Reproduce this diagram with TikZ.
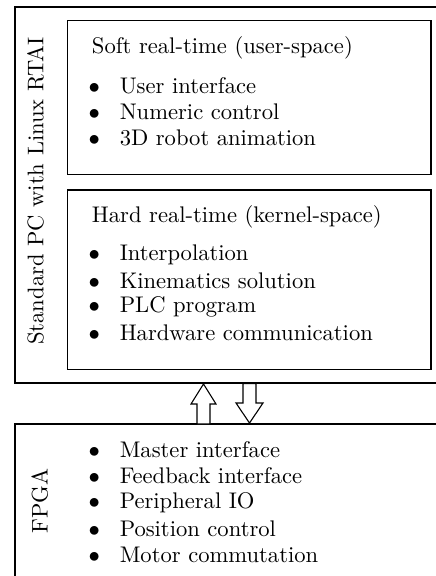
\documentclass[tikz,border=0pt]{standalone}
\begin{document}
\begin{tikzpicture}[x=1pt,y=-1pt,
  every node/.style={font=\fontsize{10}{12}\selectfont, inner sep=0pt, scale=2.26},
  box/.style={draw, line width=1.1pt, rectangle},
  itemtxt/.style={anchor=base west},
  bul/.style={anchor=base},
  arr/.style={draw, line width=1.1pt, fill=white, line join=miter}]
\useasboundingbox (0,0) rectangle (436,576);
\clip (0,0) rectangle (436,576);
% boxes
\draw[box] (15,7) rectangle (460,383);
\draw[box] (67.5,20.5) rectangle (431,174.5);
\draw[box] (67.5,190) rectangle (431,369.5);
\draw[box] (15,424) rectangle (460,600);
% rotated labels
\node[rotate=90, anchor=base] (pc) at (43.3,191) {Standard PC with Linux RTAI};
\node[rotate=90, anchor=base] (fpga) at (47.5,501) {FPGA};
% soft
\node[itemtxt] (st) at (91.5,53) {Soft real-time (user-space)};
\foreach \t/\y [count=\i] in {User interface/93, Numeric control/119, 3D robot animation/145}{
  \node[bul] (sb\i) at (94.3,\y) {$\bullet$};
  \node[itemtxt] (si\i) at (119.3,\y) {\t};
}
% hard
\node[itemtxt] (ht) at (91.5,222) {Hard real-time (kernel-space)};
\foreach \t/\y [count=\i] in {Interpolation/260, Kinematics solution/288, PLC program/312, Hardware communication/340}{
  \node[bul] (hb\i) at (94.3,\y) {$\bullet$};
  \node[itemtxt] (hi\i) at (119.3,\y) {\t};
}
% fpga
\foreach \t/\y [count=\i] in {Master interface/457, Feedback interface/483, Peripheral IO/508, Position control/536, Motor commutation/562}{
  \node[bul] (fb\i) at (94.3,\y) {$\bullet$};
  \node[itemtxt] (fi\i) at (119.3,\y) {\t};
}
% arrows
\draw[arr] (203.5,384) -- (216,404) -- (210,404) -- (210,424) -- (197,424) -- (197,404) -- (191,404) -- cycle;
\draw[arr] (249.5,423) -- (263,403) -- (256,403) -- (256,383.5) -- (243,383.5) -- (243,403) -- (236,403) -- cycle;
\end{tikzpicture}
\end{document}
